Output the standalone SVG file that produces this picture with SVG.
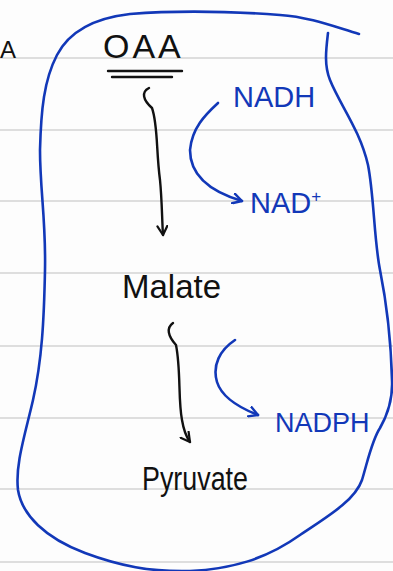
<svg xmlns="http://www.w3.org/2000/svg" width="393" height="571" viewBox="0 0 393 571">
<style>
.rule{stroke:#d3d3d3;stroke-width:1.6}
.blue{fill:none;stroke:#1238b8;stroke-width:2.6;stroke-linecap:round;stroke-linejoin:round}
.black{fill:none;stroke:#111;stroke-width:2.4;stroke-linecap:round;stroke-linejoin:round}
.tk{font-family:"Liberation Sans","DejaVu Sans",sans-serif;fill:#111}
.tb{font-family:"Liberation Sans","DejaVu Sans",sans-serif;fill:#1238b8}
</style>
<defs>
<marker id="ahk" viewBox="0 0 12 12" refX="10" refY="6" markerWidth="12" markerHeight="12" markerUnits="userSpaceOnUse" orient="auto">
<path d="M1,1 L10,6 L1,11" fill="none" stroke="#111" stroke-width="2.2" stroke-linecap="round" stroke-linejoin="round"/>
</marker>
<marker id="ahb" viewBox="0 0 12 12" refX="10" refY="6" markerWidth="12" markerHeight="12" markerUnits="userSpaceOnUse" orient="auto">
<path d="M1,1 L10,6 L1,11" fill="none" stroke="#1238b8" stroke-width="2.4" stroke-linecap="round" stroke-linejoin="round"/>
</marker>
</defs>
<rect width="393" height="571" fill="#fdfdfd"/>
<g id="paper-lines">
<line class="rule" x1="0" y1="58" x2="393" y2="58"/>
<line class="rule" x1="0" y1="130" x2="393" y2="130"/>
<line class="rule" x1="0" y1="201" x2="393" y2="201"/>
<line class="rule" x1="0" y1="273" x2="393" y2="273"/>
<line class="rule" x1="0" y1="346" x2="393" y2="346"/>
<line class="rule" x1="0" y1="418" x2="393" y2="418"/>
<line class="rule" x1="0" y1="489" x2="393" y2="489"/>
<line class="rule" x1="0" y1="562" x2="393" y2="562"/>
</g>
<g id="compartment">
<path class="blue" d="M359,34 C335,27 310,17 280,15 C240,12 180,10 130,14 C95,18 70,30 57,55 C44,80 41,110 40,150 C40,190 46,220 45,270 C44,320 42,360 33,400 C25,435 15,465 18,490 C22,515 45,538 85,553 C120,566 150,572 190,571 C230,569 265,560 300,535 C330,515 355,500 362,480 C368,460 372,440 380,428 C388,414 393,400 392,380 C391,340 386,300 380,270 C374,240 374,195 368,165 C360,130 340,105 330,80 C324,65 326,50 328,33"/>
</g>
<g id="edge-label-A">
<text class="tk" x="0" y="58" font-size="24">A</text>
</g>
<g id="node-OAA">
<text class="tk" x="103" y="58" font-size="34" letter-spacing="3">OAA</text>
<line class="black" x1="108" y1="71" x2="182" y2="71"/>
<line class="black" x1="112" y1="77" x2="172" y2="77"/>
</g>
<g id="node-Malate">
<text class="tk" x="122" y="298" font-size="33">Malate</text>
</g>
<g id="node-Pyruvate">
<text class="tk" x="142" y="490" font-size="33" textLength="106" lengthAdjust="spacingAndGlyphs">Pyruvate</text>
</g>
<g id="node-NADH">
<text class="tb" x="233" y="107" font-size="29">NADH</text>
</g>
<g id="node-NADplus">
<text class="tb" x="250" y="213" font-size="29">NAD<tspan font-size="17" dy="-11">+</tspan></text>
</g>
<g id="node-NADPH">
<text class="tb" x="275" y="432" font-size="27">NADPH</text>
</g>
<g id="connectors">
<path class="black" marker-end="url(#ahk)" d="M149,88 C141,92 143,100 152,108 C158,125 156,150 160,180 C162,200 162,220 163,235"/>
<path class="black" marker-end="url(#ahk)" d="M173,323 C166,328 168,336 176,345 C181,370 178,400 182,420 C184,432 187,438 190,442"/>
<path class="blue" marker-end="url(#ahb)" d="M218,103 C205,115 192,128 190,150 C190,172 205,190 242,201"/>
<path class="blue" marker-end="url(#ahb)" d="M235,340 C220,350 212,365 217,382 C222,398 240,408 258,415"/>
</g>
</svg>
